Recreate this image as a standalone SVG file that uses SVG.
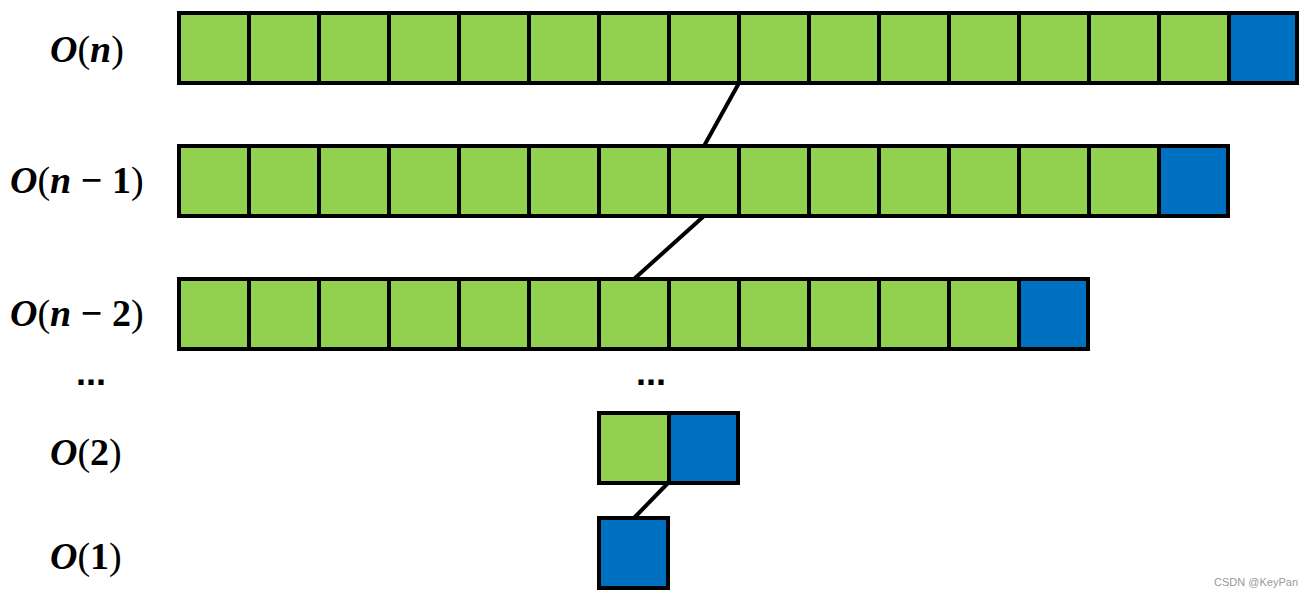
<svg xmlns="http://www.w3.org/2000/svg" width="1314" height="599" viewBox="0 0 1314 599">
<style>
.g{fill:#92D050;stroke:#000;stroke-width:4}
.b{fill:#0070C0;stroke:#000;stroke-width:4}
.lbl{font-family:"Liberation Serif","DejaVu Serif",serif;font-size:38px;fill:#000}
.v{font-weight:bold;font-style:italic}
.n{font-weight:bold}
.p{font-weight:normal}
.dots{font-family:"Liberation Sans",sans-serif;font-size:36px;font-weight:bold}
.conn{stroke:#000;stroke-width:4;fill:none}
</style>
<rect width="1314" height="599" fill="#fff"/>
<g id="row-n">
<rect class="g" x="179" y="13" width="70" height="70"/><rect class="g" x="249" y="13" width="70" height="70"/><rect class="g" x="319" y="13" width="70" height="70"/><rect class="g" x="389" y="13" width="70" height="70"/><rect class="g" x="459" y="13" width="70" height="70"/><rect class="g" x="529" y="13" width="70" height="70"/><rect class="g" x="599" y="13" width="70" height="70"/><rect class="g" x="669" y="13" width="70" height="70"/><rect class="g" x="739" y="13" width="70" height="70"/><rect class="g" x="809" y="13" width="70" height="70"/><rect class="g" x="879" y="13" width="70" height="70"/><rect class="g" x="949" y="13" width="70" height="70"/><rect class="g" x="1019" y="13" width="70" height="70"/><rect class="g" x="1089" y="13" width="70" height="70"/><rect class="g" x="1159" y="13" width="70" height="70"/><rect class="b" x="1229" y="13" width="68" height="70"/>
</g>
<g id="row-n1">
<rect class="g" x="179" y="146" width="70" height="70"/><rect class="g" x="249" y="146" width="70" height="70"/><rect class="g" x="319" y="146" width="70" height="70"/><rect class="g" x="389" y="146" width="70" height="70"/><rect class="g" x="459" y="146" width="70" height="70"/><rect class="g" x="529" y="146" width="70" height="70"/><rect class="g" x="599" y="146" width="70" height="70"/><rect class="g" x="669" y="146" width="70" height="70"/><rect class="g" x="739" y="146" width="70" height="70"/><rect class="g" x="809" y="146" width="70" height="70"/><rect class="g" x="879" y="146" width="70" height="70"/><rect class="g" x="949" y="146" width="70" height="70"/><rect class="g" x="1019" y="146" width="70" height="70"/><rect class="g" x="1089" y="146" width="70" height="70"/><rect class="b" x="1159" y="146" width="69" height="70"/>
</g>
<g id="row-n2">
<rect class="g" x="179" y="279" width="70" height="70"/><rect class="g" x="249" y="279" width="70" height="70"/><rect class="g" x="319" y="279" width="70" height="70"/><rect class="g" x="389" y="279" width="70" height="70"/><rect class="g" x="459" y="279" width="70" height="70"/><rect class="g" x="529" y="279" width="70" height="70"/><rect class="g" x="599" y="279" width="70" height="70"/><rect class="g" x="669" y="279" width="70" height="70"/><rect class="g" x="739" y="279" width="70" height="70"/><rect class="g" x="809" y="279" width="70" height="70"/><rect class="g" x="879" y="279" width="70" height="70"/><rect class="g" x="949" y="279" width="70" height="70"/><rect class="b" x="1019" y="279" width="69" height="70"/>
</g>
<g id="row-2">
<rect class="g" x="599" y="413" width="70" height="70"/><rect class="b" x="669" y="413" width="69" height="70"/>
</g>
<g id="row-1">
<rect class="b" x="599" y="518" width="69" height="70"/>
</g>
<g id="connectors">
<line class="conn" x1="739" y1="83" x2="704" y2="146"/>
<line class="conn" x1="704" y1="216" x2="634" y2="279"/>
<line class="conn" x1="668" y1="483" x2="634" y2="518"/>
</g>
<g id="labels">
<text class="lbl" x="50" y="62"><tspan class="v">O</tspan><tspan class="p">(</tspan><tspan class="v">n</tspan><tspan class="p">)</tspan></text>
<text class="lbl" x="10" y="193"><tspan class="v">O</tspan><tspan class="p">(</tspan><tspan class="v">n</tspan><tspan class="n"> − 1</tspan><tspan class="p">)</tspan></text>
<text class="lbl" x="10" y="326"><tspan class="v">O</tspan><tspan class="p">(</tspan><tspan class="v">n</tspan><tspan class="n"> − 2</tspan><tspan class="p">)</tspan></text>
<text class="lbl" x="50" y="465"><tspan class="v">O</tspan><tspan class="p">(</tspan><tspan class="n">2</tspan><tspan class="p">)</tspan></text>
<text class="lbl" x="50" y="569"><tspan class="v">O</tspan><tspan class="p">(</tspan><tspan class="n">1</tspan><tspan class="p">)</tspan></text>
<text class="dots" x="76" y="385">...</text>
<text class="dots" x="636" y="385">...</text>
</g>
<text x="1298" y="586" text-anchor="end" font-family="Liberation Sans,sans-serif" font-size="11" fill="#999">CSDN @KeyPan</text>
</svg>
